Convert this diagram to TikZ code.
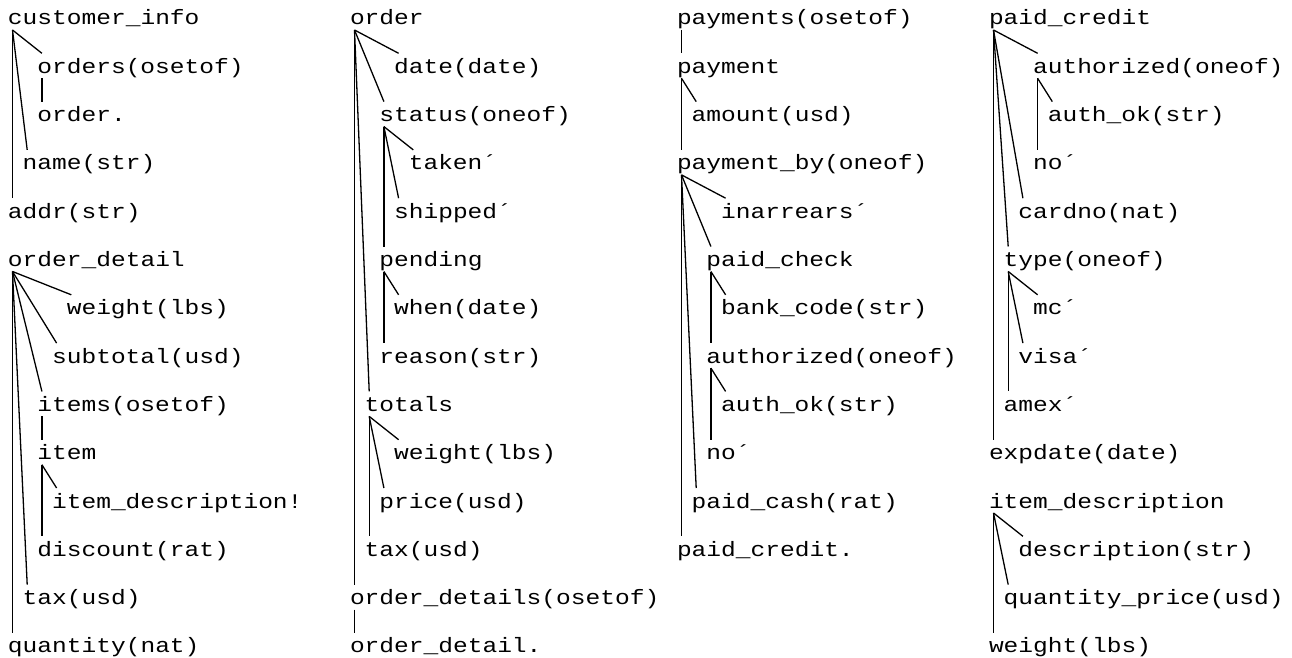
\documentclass[tikz,border=0pt]{standalone}
\usepackage{fontspec}
\newfontfamily\tnfont[FakeStretch=1.18]{Liberation Mono}
\tikzset{
  tn/.style={anchor=base west, inner sep=0pt, outer sep=0pt, font=\tnfont\fontsize{20.8}{24}\selectfont},
  conn/.style={draw=black, line width=1.3pt}
}
\newcommand\tnode[4]{\node[tn] (#1) at ({#2},{25+48.3*#3}) {#4};}
\newcommand\tedge[2]{\draw[conn] ([shift={(4.5,5)}]#1.base west) -- ([shift={(4.5,-20)}]#2.base west);}
\begin{document}
\begin{tikzpicture}[x=1pt,y=-1pt]
\useasboundingbox[fill=white] (0,0) rectangle (1292,658);
\def\st{14.7}
% column 1
\def\ca{8}
\tnode{ci}{\ca}{0}{customer\_info}
\tnode{corders}{\ca+2*\st}{1}{orders(osetof)}
\tnode{corder}{\ca+2*\st}{2}{order.}
\tnode{cname}{\ca+1*\st}{3}{name(str)}
\tnode{caddr}{\ca}{4}{addr(str)}
\tedge{ci}{corders}\tedge{corders}{corder}\tedge{ci}{cname}\tedge{ci}{caddr}
\tnode{od}{\ca}{5}{order\_detail}
\tnode{odw}{\ca+4*\st}{6}{weight(lbs)}
\tnode{ods}{\ca+3*\st}{7}{subtotal(usd)}
\tnode{odi}{\ca+2*\st}{8}{items(osetof)}
\tnode{oditem}{\ca+2*\st}{9}{item}
\tnode{odid}{\ca+3*\st}{10}{item\_description!}
\tnode{oddisc}{\ca+2*\st}{11}{discount(rat)}
\tnode{odtax}{\ca+1*\st}{12}{tax(usd)}
\tnode{odq}{\ca}{13}{quantity(nat)}
\tedge{od}{odw}\tedge{od}{ods}\tedge{od}{odi}\tedge{odi}{oditem}
\tedge{oditem}{odid}\tedge{oditem}{oddisc}\tedge{od}{odtax}\tedge{od}{odq}
% column 2
\def\cb{350}
\tnode{o}{\cb}{0}{order}
\tnode{odate}{\cb+3*\st}{1}{date(date)}
\tnode{ost}{\cb+2*\st}{2}{status(oneof)}
\tnode{otk}{\cb+4*\st}{3}{taken´}
\tnode{osh}{\cb+3*\st}{4}{shipped´}
\tnode{opend}{\cb+2*\st}{5}{pending}
\tnode{owhen}{\cb+3*\st}{6}{when(date)}
\tnode{oreason}{\cb+2*\st}{7}{reason(str)}
\tnode{otot}{\cb+1*\st}{8}{totals}
\tnode{otw}{\cb+3*\st}{9}{weight(lbs)}
\tnode{otp}{\cb+2*\st}{10}{price(usd)}
\tnode{ottax}{\cb+1*\st}{11}{tax(usd)}
\tnode{ods2}{\cb}{12}{order\_details(osetof)}
\tnode{odd}{\cb}{13}{order\_detail.}
\tedge{o}{odate}\tedge{o}{ost}\tedge{ost}{otk}\tedge{ost}{osh}\tedge{ost}{opend}
\tedge{opend}{owhen}\tedge{opend}{oreason}\tedge{o}{otot}\tedge{otot}{otw}
\tedge{otot}{otp}\tedge{otot}{ottax}\tedge{o}{ods2}\tedge{ods2}{odd}
% column 3
\def\cc{677}
\tnode{ps}{\cc}{0}{payments(osetof)}
\tnode{p}{\cc}{1}{payment}
\tnode{pam}{\cc+1*\st}{2}{amount(usd)}
\tnode{pb}{\cc}{3}{payment\_by(oneof)}
\tnode{pin}{\cc+3*\st}{4}{inarrears´}
\tnode{pchk}{\cc+2*\st}{5}{paid\_check}
\tnode{pbank}{\cc+3*\st}{6}{bank\_code(str)}
\tnode{pauth}{\cc+2*\st}{7}{authorized(oneof)}
\tnode{pok}{\cc+3*\st}{8}{auth\_ok(str)}
\tnode{pno}{\cc+2*\st}{9}{no´}
\tnode{pcash}{\cc+1*\st}{10}{paid\_cash(rat)}
\tnode{pcred}{\cc}{11}{paid\_credit.}
\tedge{ps}{p}\tedge{p}{pam}\tedge{p}{pb}\tedge{pb}{pin}\tedge{pb}{pchk}
\tedge{pchk}{pbank}\tedge{pchk}{pauth}\tedge{pauth}{pok}\tedge{pauth}{pno}
\tedge{pb}{pcash}\tedge{pb}{pcred}
% column 4
\def\cd{989}
\tnode{cr}{\cd}{0}{paid\_credit}
\tnode{cauth}{\cd+3*\st}{1}{authorized(oneof)}
\tnode{cok}{\cd+4*\st}{2}{auth\_ok(str)}
\tnode{cno}{\cd+3*\st}{3}{no´}
\tnode{ccard}{\cd+2*\st}{4}{cardno(nat)}
\tnode{ctype}{\cd+1*\st}{5}{type(oneof)}
\tnode{cmc}{\cd+3*\st}{6}{mc´}
\tnode{cvisa}{\cd+2*\st}{7}{visa´}
\tnode{camex}{\cd+1*\st}{8}{amex´}
\tnode{cexp}{\cd}{9}{expdate(date)}
\tedge{cr}{cauth}\tedge{cauth}{cok}\tedge{cauth}{cno}\tedge{cr}{ccard}\tedge{cr}{ctype}
\tedge{ctype}{cmc}\tedge{ctype}{cvisa}\tedge{ctype}{camex}\tedge{cr}{cexp}
\tnode{id}{\cd}{10}{item\_description}
\tnode{idd}{\cd+2*\st}{11}{description(str)}
\tnode{idq}{\cd+1*\st}{12}{quantity\_price(usd)}
\tnode{idw}{\cd}{13}{weight(lbs)}
\tedge{id}{idd}\tedge{id}{idq}\tedge{id}{idw}
\end{tikzpicture}
\end{document}
